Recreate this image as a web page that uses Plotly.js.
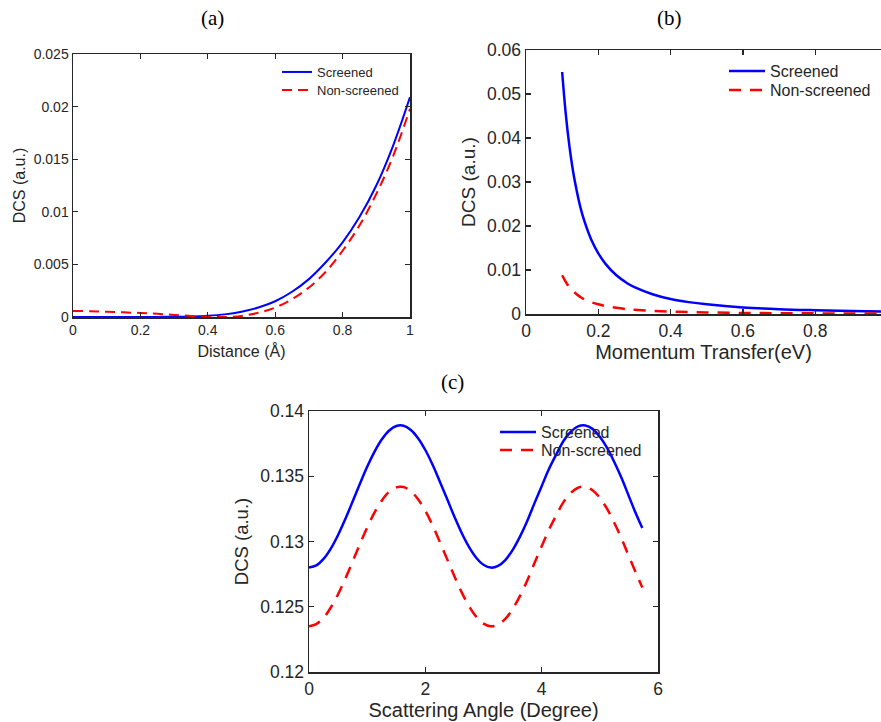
<!DOCTYPE html>
<html>
<head>
<meta charset="utf-8">
<script src="https://cdn.plot.ly/plotly-3.0.1.min.js"></script>
<style>html,body{margin:0;padding:0;background:#fff;}#chart{width:881px;height:722px;}</style>
</head>
<body>
<div id="chart"></div>
<script>
// Panel (a): DCS vs distance
const distA = [0, 0.05, 0.1, 0.15, 0.2, 0.25, 0.3, 0.35, 0.4, 0.45, 0.5, 0.55, 0.6, 0.65, 0.7, 0.75, 0.8, 0.85, 0.9, 0.95, 1.0];
const screenedA = [0, 0, 0, 0, 0, 0.00001, 0.00002, 0.00005, 0.00012, 0.00025, 0.0005, 0.0009, 0.0015, 0.0024, 0.0036, 0.0052, 0.0071, 0.0095, 0.0125, 0.0163, 0.0209];
const nonScreenedA = [0.00058, 0.00055, 0.0005, 0.00044, 0.00038, 0.0003, 0.0002, 0.0001, 0.00003, 0.0, 0.0001, 0.0004, 0.0009, 0.0017, 0.0028, 0.0043, 0.0063, 0.0087, 0.0117, 0.0153, 0.0198];

// Panel (b): DCS vs momentum transfer
const momB = [0.1, 0.11, 0.12, 0.13, 0.14, 0.15, 0.16, 0.18, 0.2, 0.22, 0.25, 0.28, 0.3, 0.35, 0.4, 0.45, 0.5, 0.6, 0.7, 0.8, 0.9, 1.0];
const screenedB = [0.055, 0.0455, 0.0382, 0.0325, 0.0281, 0.0244, 0.0215, 0.017, 0.0138, 0.0114, 0.0088, 0.007, 0.0061, 0.0045, 0.0034, 0.0027, 0.0022, 0.0015, 0.0011, 0.00086, 0.00068, 0.00055];
const nonScreenedB = [0.0088, 0.0073, 0.0061, 0.0052, 0.0045, 0.0039, 0.0034, 0.0027, 0.0022, 0.0018, 0.0014, 0.0011, 0.00098, 0.00072, 0.00055, 0.00043, 0.00035, 0.00024, 0.00018, 0.00014, 0.00011, 0.00009];

// Panel (c): DCS vs scattering angle
const angC = [0, 0.125, 0.25, 0.375, 0.5, 0.625, 0.75, 0.875, 1.0, 1.125, 1.25, 1.375, 1.5, 1.625, 1.75, 1.875,
  2.0, 2.125, 2.25, 2.375, 2.5, 2.625, 2.75, 2.875, 3.0, 3.125, 3.25, 3.375, 3.5, 3.625, 3.75, 3.875,
  4.0, 4.125, 4.25, 4.375, 4.5, 4.625, 4.75, 4.875, 5.0, 5.125, 5.25, 5.375, 5.5, 5.625, 5.73];
const screenedC = [0.12800, 0.12817, 0.12867, 0.12946, 0.13050, 0.13173, 0.13306, 0.13442, 0.13572, 0.13687, 0.13781, 0.13849, 0.13885, 0.13887, 0.13855, 0.13792,
  0.13701, 0.13588, 0.13458, 0.13325, 0.13190, 0.13065, 0.12959, 0.12876, 0.12822, 0.12800, 0.12813, 0.12858, 0.12934, 0.13035, 0.13155, 0.13292,
  0.13424, 0.13555, 0.13666, 0.13770, 0.13841, 0.13882, 0.13889, 0.13863, 0.13802, 0.13717, 0.13607, 0.13484, 0.13346, 0.13208, 0.13103];
const nonScreenedC = [0.12350, 0.12367, 0.12415, 0.12494, 0.12596, 0.12716, 0.12847, 0.12980, 0.13108, 0.13221, 0.13313, 0.13380, 0.13415, 0.13417, 0.13386, 0.13324,
  0.13235, 0.13124, 0.12996, 0.12865, 0.12733, 0.12610, 0.12506, 0.12424, 0.12371, 0.12350, 0.12363, 0.12407, 0.12482, 0.12581, 0.12699, 0.12833,
  0.12963, 0.13091, 0.13200, 0.13302, 0.13372, 0.13412, 0.13419, 0.13393, 0.13334, 0.13250, 0.13142, 0.13021, 0.12886, 0.12754, 0.12647];

const seriesNames = ['Screened', 'Non-screened'];
const tickA_x = [0, 0.2, 0.4, 0.6, 0.8, 1];
const tickA_xt = ['0', '0.2', '0.4', '0.6', '0.8', '1'];
const tickA_y = [0, 0.005, 0.01, 0.015, 0.02, 0.025];
const tickA_yt = ['0', '0.005', '0.01', '0.015', '0.02', '0.025'];
const tickB_x = [0, 0.2, 0.4, 0.6, 0.8];
const tickB_xt = ['0', '0.2', '0.4', '0.6', '0.8'];
const tickB_y = [0, 0.01, 0.02, 0.03, 0.04, 0.05, 0.06];
const tickB_yt = ['0', '0.01', '0.02', '0.03', '0.04', '0.05', '0.06'];
const tickC_x = [0, 2, 4, 6];
const tickC_xt = ['0', '2', '4', '6'];
const tickC_y = [0.12, 0.125, 0.13, 0.135, 0.14];
const tickC_yt = ['0.12', '0.125', '0.13', '0.135', '0.14'];

const BLUE = '#0000ff', RED = '#ff0000', AX = '#262626';
const FONT = 'Liberation Sans, Arial, sans-serif';

function line(x, y, name, color, dash, xa, ya, leg, w) {
  return {x: x, y: y, name: name, type: 'scatter', mode: 'lines', xaxis: xa, yaxis: ya, legend: leg, showlegend: true,
    line: {color: color, width: w, dash: dash, shape: 'spline', smoothing: 1.0}};
}

const data = [
  line(distA, screenedA, seriesNames[0], BLUE, 'solid', 'x', 'y', 'legend', 2),
  line(distA, nonScreenedA, seriesNames[1], RED, '10px,6px', 'x', 'y', 'legend4', 2),
  line(momB, screenedB, seriesNames[0], BLUE, 'solid', 'x2', 'y2', 'legend2', 2.5),
  line(momB, nonScreenedB, seriesNames[1], RED, '12px,9px', 'x2', 'y2', 'legend5', 2.5),
  line(angC, screenedC, seriesNames[0], BLUE, 'solid', 'x3', 'y3', 'legend3', 2.5),
  line(angC, nonScreenedC, seriesNames[1], RED, '12px,9px', 'x3', 'y3', 'legend6', 2.5)
];

function ax(extra) {
  return Object.assign({
    showline: true, linecolor: AX, linewidth: 1.5, ticks: 'inside', ticklen: 5, tickcolor: AX, tickwidth: 1.2,
    showgrid: false, zeroline: false, automargin: false, tickmode: 'array', fixedrange: true,
    tickfont: {family: FONT, color: AX}
  }, extra);
}

const W = 881, H = 722;
const px = v => v / W;
const py = v => 1 - v / H;

function leg(x, y, size, iw) {
  return {x: px(x), y: py(y), xanchor: 'left', yanchor: 'middle', bgcolor: 'rgba(0,0,0,0)',
    font: {family: FONT, color: AX, size: size}, itemwidth: iw, borderwidth: 0, visible: true};
}

const layout = {
  width: W, height: H,
  showlegend: true,
  margin: {l: 0, r: 0, t: 0, b: 0},
  paper_bgcolor: '#ffffff', plot_bgcolor: '#ffffff',
  font: {family: FONT, color: AX},
  xaxis: ax({domain: [px(73), px(410)], range: [0, 1], anchor: 'y', mirror: 'ticks',
    tickvals: tickA_x, ticktext: tickA_xt, tickfont: {family: FONT, color: AX, size: 14},
    title: {text: 'Distance (Å)', font: {family: FONT, color: AX, size: 16}, standoff: 8}}),
  yaxis: ax({domain: [py(317), py(54)], range: [0, 0.025], anchor: 'x', mirror: 'ticks',
    tickvals: tickA_y, ticktext: tickA_yt, tickfont: {family: FONT, color: AX, size: 14},
    title: {text: 'DCS (a.u.)', font: {family: FONT, color: AX, size: 16}, standoff: 4}}),
  xaxis2: ax({domain: [px(526), 1], range: [0, 355 / 361.5], anchor: 'y2', mirror: 'ticks',
    tickvals: tickB_x, ticktext: tickB_xt, tickfont: {family: FONT, color: AX, size: 17.5},
    title: {text: 'Momentum Transfer(eV)', font: {family: FONT, color: AX, size: 20}, standoff: 2}}),
  yaxis2: ax({domain: [py(314), py(50)], range: [0, 0.06], anchor: 'x2', mirror: false,
    tickvals: tickB_y, ticktext: tickB_yt, tickfont: {family: FONT, color: AX, size: 17.5},
    title: {text: 'DCS (a.u.)', font: {family: FONT, color: AX, size: 19}, standoff: 6}}),
  xaxis3: ax({domain: [px(309), px(658)], range: [0, 6], anchor: 'y3', mirror: 'ticks',
    tickvals: tickC_x, ticktext: tickC_xt, tickfont: {family: FONT, color: AX, size: 17.5},
    title: {text: 'Scattering Angle (Degree)', font: {family: FONT, color: AX, size: 20}, standoff: 0}}),
  yaxis3: ax({domain: [py(672), py(411)], range: [0.12, 0.14], anchor: 'x3', mirror: 'ticks',
    tickvals: tickC_y, ticktext: tickC_yt, tickfont: {family: FONT, color: AX, size: 17.5},
    title: {text: 'DCS (a.u.)', font: {family: FONT, color: AX, size: 18.5}, standoff: 6}}),
  legend: leg(277, 72, 13, 30),
  legend4: leg(277, 90, 13, 30),
  legend2: leg(724, 71, 16, 36),
  legend5: leg(724, 90, 16, 36),
  legend3: leg(495, 432, 16, 36),
  legend6: leg(495, 450, 16, 36),
  annotations: [
    {text: '(a)', x: px(212), y: py(18), xref: 'paper', yref: 'paper', showarrow: false, xanchor: 'center', yanchor: 'middle',
      font: {family: 'Liberation Serif, Times New Roman, serif', size: 21, color: '#000'}},
    {text: '(b)', x: px(669), y: py(18), xref: 'paper', yref: 'paper', showarrow: false, xanchor: 'center', yanchor: 'middle',
      font: {family: 'Liberation Serif, Times New Roman, serif', size: 21, color: '#000'}},
    {text: '(c)', x: px(452), y: py(382), xref: 'paper', yref: 'paper', showarrow: false, xanchor: 'center', yanchor: 'middle',
      font: {family: 'Liberation Serif, Times New Roman, serif', size: 21, color: '#000'}}
  ]
};

Plotly.newPlot('chart', data, layout, {displayModeBar: false, staticPlot: true});
</script>
</body>
</html>
